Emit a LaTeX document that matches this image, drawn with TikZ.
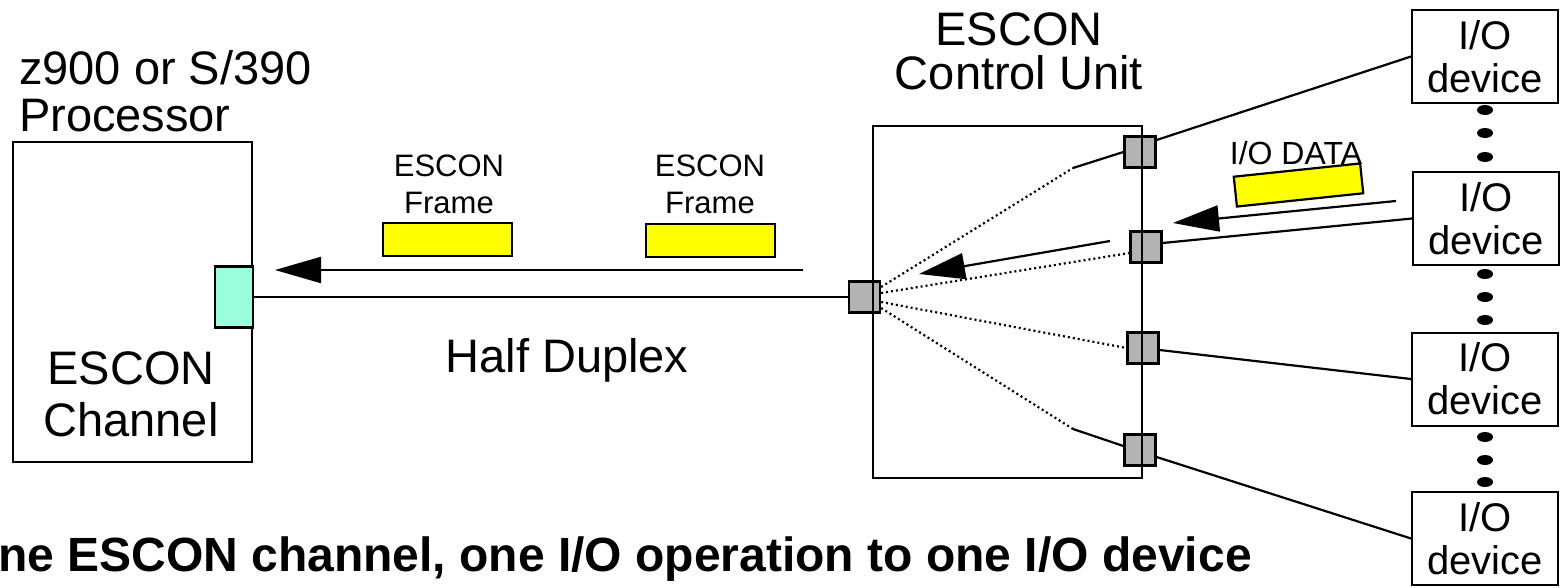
\documentclass[tikz,border=0pt]{standalone}
\usepackage{fontspec}
\setmainfont{Liberation Sans}
\usetikzlibrary{calc,positioning,arrows.meta}
\definecolor{portgray}{RGB}{179,179,179}
\definecolor{chancyan}{RGB}{153,255,221}
\definecolor{framey}{RGB}{255,255,0}

\begin{document}
\begin{tikzpicture}[x=1pt,y=-1pt,line width=2.2pt,
    box/.style={draw,line width=2pt,inner sep=0pt},
    port/.style={draw,fill=portgray,line width=2.2pt,minimum size=31pt,inner sep=0pt},
    frm/.style={draw,fill=framey,line width=2.2pt,minimum width=129pt,minimum height=33pt,inner sep=0pt},
    dev/.style={draw,line width=2pt,minimum width=146pt,minimum height=93pt,inner sep=0pt,
                align=center,font=\fontsize{40}{43}\selectfont},
    big/.style={font=\fontsize{47}{52}\selectfont,inner sep=0pt,align=center},
    small/.style={font=\fontsize{31}{37}\selectfont,inner sep=0pt,align=center},
    fat/.style={-{Triangle[length=46pt,width=26pt]},line width=2.2pt},
    fan/.style={line width=2.2pt,dash pattern=on 2pt off 3pt}]
        \useasboundingbox (0,0) rectangle (1562,587);

        % processor side
        \node[box,minimum width=239pt,minimum height=320pt] (proc) at (132.5,302) {};
        \node[draw,fill=chancyan,line width=2.2pt,minimum width=38pt,minimum height=61pt,inner sep=0pt] (chan) at (234,297) {};
        \node[big,align=left,anchor=west,font=\fontsize{47}{47}\selectfont] (proclbl) at (18,91) {z900 or S/390\\Processor};
        \node[big] (chanlbl) at (131,394) {ESCON\\Channel};

        % frames on the link
        \node[small] (f1lbl) at (449,184) {ESCON\\Frame};
        \node[small] (f2lbl) at (710,184) {ESCON\\Frame};
        \node[frm] (f1) at (447.5,239.5) {};
        \node[frm] (f2) at (710.5,240.5) {};
        \node[big,anchor=base] (hd) at (567,372) {Half Duplex};

        % control unit
        \node[port] (cuin) at (864.5,297) {};
        \node[port] (p1) at (1140,152) {};
        \node[port] (p2) at (1146,247) {};
        \node[port] (p3) at (1143,348) {};
        \node[port] (p4) at (1140,450) {};
        \node[box,minimum width=269pt,minimum height=352pt] (cu) at (1007.5,302) {};
        \node[big,font=\fontsize{47}{44}\selectfont] (culbl) at (1019,51) {ESCON\\Control Unit};

        % devices
        \node[dev] (d1) at (1485,56.5) {I/O\\device};
        \node[dev] (d2) at (1486,218.5) {I/O\\device};
        \node[dev] (d3) at (1485,379) {I/O\\device};
        \node[dev] (d4) at (1485,538.5) {I/O\\device};
        \foreach \y in {110,133,157,274,297,320,437,460,482}{
            \fill (1485,\y) ellipse[x radius=8pt,y radius=5pt];
        }

        \node[small,font=\fontsize{32}{37}\selectfont] (dlbl) at (1296,153) {I/O DATA};
        \node[frm,minimum width=127pt,minimum height=30pt,rotate=6] (dfrm) at (1298.5,185) {};

        % links
        \draw (chan.east) -- (cuin.west);
        \coordinate (a1s) at (803,270);
        \coordinate (a1e) at (275,270);
        \draw[fat] (a1s) -- (a1e);

        \coordinate (k1) at (1073,168);
        \coordinate (k4) at (1073,429);
        \draw[fan] ($(cuin.east)+(0,-10)$) -- (k1);
        \draw[fan] ($(cuin.east)+(0,-4)$) -- ($(p2.west)+(0,6)$);
        \draw[fan] ($(cuin.east)+(0,5)$) -- (p3.west);
        \draw[fan] ($(cuin.east)+(0,11)$) -- (k4);
        \draw (k1) -- (p1.west);
        \draw (k4) -- ($(p4.west)+(0,-4)$);

        \coordinate (ca1) at (1110,241);
        \coordinate (ca2) at (919,274);
        \draw[fat] (ca1) -- (ca2);

        \draw ($(p1.east)+(0,-12)$) -- (d1.west);
        \draw ($(p2.east)+(0,-4)$) -- (d2.west);
        \draw ($(p3.east)+(0,2)$) -- (d3.west);
        \draw ($(p4.east)+(0,7)$) -- (d4.west);

        \coordinate (da1) at (1396,201);
        \coordinate (da2) at (1173,223);
        \draw[fat] (da1) -- (da2);

        \node[font=\bfseries\fontsize{48}{52}\selectfont,anchor=base west,inner sep=0pt] (caption) at (-3,571)
            {ne ESCON channel, one I/O operation to one I/O device};
    \end{tikzpicture}
\end{document}
